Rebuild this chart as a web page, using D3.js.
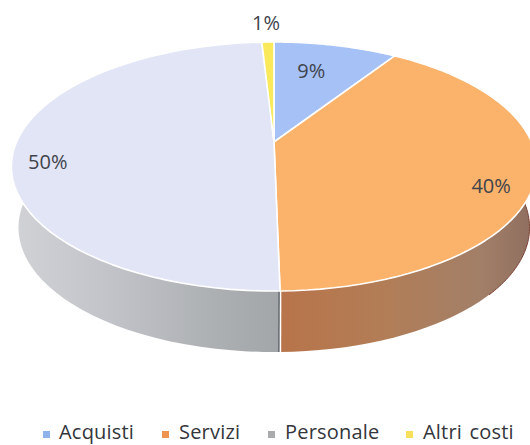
<!DOCTYPE html>
<html>
<head>
<meta charset="utf-8">
<script src="https://cdnjs.cloudflare.com/ajax/libs/d3/7.8.5/d3.min.js"></script>
<style>
    html, body { margin: 0; padding: 0; background: #fff; overflow: hidden; }
    text { font-family: "Open Sans", sans-serif; }
</style>
</head>
<body>
<div id="chart"></div>
<script>
const categories = ["Acquisti", "Servizi", "Personale", "Altri costi"];
const shares = [9.2, 40.5, 49.4, 0.9];
const shareLabels = ["9%", "40%", "50%", "1%"];
const topColors = ["#a6c1f6", "#fbb26a", "#e2e5f5", "#fbe95c"];
const legendColors = ["#8fb4ec", "#ee9350", "#a9abad", "#f7e05a"];

// label spots, polar on the disc (degrees clockwise from top, radius 1 = rim)
const labelAngles = [13.7, 113.4, 259.3, -1.8];
const labelRadii = [0.692, 0.857, 0.866, 1.237];

// legend layout, left edge of each swatch and of each text
const legendSwatchX = [43, 162, 268, 406];
const legendTextX = [59, 179, 285, 423];

const width = 530, height = 445;
const cx = 274, cy = 142;      // where the slices meet
const rx = 257.5, ry = 119.7;
const tilt = 0.197;            // perspective strength
const depth = 61;
const bottomShrink = 0.973;

const svg = d3.select("#chart").append("svg")
    .attr("width", width)
    .attr("height", height);

// the disc is a circle seen in perspective, so its centre sits above the middle
function project(angle, r = 1, dy = 0, shrink = 1) {
    let u = Math.sin(angle) * r;
    let v = -Math.cos(angle) * r;
    let w = 1 - tilt * v;
    return [cx + rx * shrink * u / w, cy + dy + ry * v / w];
}

const line = d3.line();
const sweep = (a0, a1) => d3.range(0, 61).map(i => a0 + (a1 - a0) * i / 60);

const slices = d3.pie().sort(null)(shares);

const defs = svg.append("defs");
function addGradient(id, x1, x2, stops) {
    let g = defs.append("linearGradient")
        .attr("id", id)
        .attr("gradientUnits", "userSpaceOnUse")
        .attr("x1", x1).attr("x2", x2)
        .attr("y1", 0).attr("y2", 0);
    stops.forEach(s => g.append("stop").attr("offset", s[0]).attr("stop-color", s[1]));
}
addGradient("wallGrey", 13, 280, [[0, "#d0d2d6"], [0.35, "#c2c4c9"], [0.75, "#adb0b3"], [1, "#a2a6a8"]]);
addGradient("wallBrown", 282, 530, [[0, "#b8744a"], [0.4, "#b27d56"], [0.8, "#a27f68"], [1, "#8f6f60"]]);
const wallFill = ["#8a9ab8", "url(#wallBrown)", "url(#wallGrey)", "#b8ac50"];

// side wall first, the top faces cover whatever is behind
svg.append("g").selectAll("path")
    .data(slices)
    .join("path")
    .attr("d", d => {
        let a = sweep(d.startAngle, d.endAngle);
        let upper = a.map(t => project(t));
        let lower = a.slice().reverse().map(t => project(t, 1, depth, bottomShrink));
        return line(upper.concat(lower)) + "Z";
    })
    .attr("fill", (d, i) => wallFill[i]);

// dark edge on the right of the wall
svg.append("path")
    .attr("d", line(sweep(1.55, 2.3).map(t => project(t, 1, depth, bottomShrink))))
    .attr("fill", "none")
    .attr("stroke", "#7d3f33")
    .attr("stroke-width", 1);

// seam between Personale and Servizi on the wall
const seam = slices[1].endAngle;
const seamTop = project(seam), seamBottom = project(seam, 1, depth, bottomShrink);
svg.append("line")
    .attr("x1", seamTop[0] - 1).attr("y1", seamTop[1])
    .attr("x2", seamBottom[0] - 1).attr("y2", seamBottom[1])
    .attr("stroke", "#5a5e64")
    .attr("stroke-width", 1.2);
svg.append("line")
    .attr("x1", seamTop[0] + 0.6).attr("y1", seamTop[1])
    .attr("x2", seamBottom[0] + 0.6).attr("y2", seamBottom[1])
    .attr("stroke", "#fff")
    .attr("stroke-width", 1.4);

svg.append("g").selectAll("path")
    .data(slices)
    .join("path")
    .attr("d", d => line([[cx, cy]].concat(sweep(d.startAngle, d.endAngle).map(t => project(t)))) + "Z")
    .attr("fill", (d, i) => topColors[i])
    .attr("stroke", "#fff")
    .attr("stroke-width", 1.6)
    .attr("stroke-linejoin", "round");

svg.append("g").selectAll("text")
    .data(shareLabels)
    .join("text")
    .attr("transform", (d, i) => {
        let p = project(labelAngles[i] * Math.PI / 180, labelRadii[i]);
        return `translate(${p[0]},${p[1]})`;
    })
    .attr("text-anchor", "middle")
    .attr("dy", "0.36em")
    .attr("font-size", 20)
    .attr("fill", "#40444c")
    .text(d => d);

// legend
const legend = svg.append("g").selectAll("g")
    .data(categories)
    .join("g");
legend.append("rect")
    .attr("x", (d, i) => legendSwatchX[i])
    .attr("y", 431)
    .attr("width", 7)
    .attr("height", 7)
    .attr("fill", (d, i) => legendColors[i]);
legend.append("text")
    .attr("x", (d, i) => legendTextX[i])
    .attr("y", 439)
    .attr("font-size", 20)
    .attr("letter-spacing", 0.2)
    .attr("word-spacing", 2)
    .attr("fill", "#33363b")
    .text(d => d);
</script>
</body>
</html>
